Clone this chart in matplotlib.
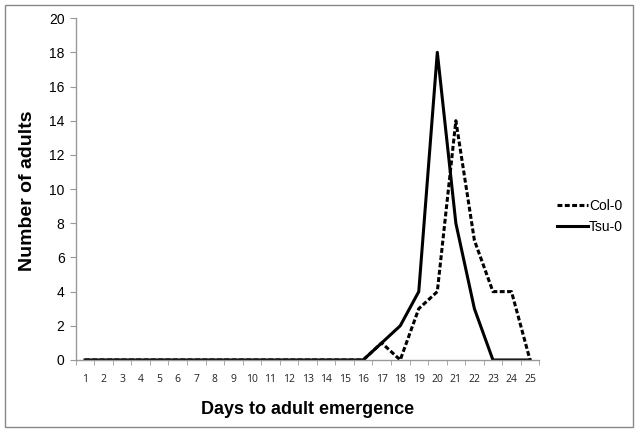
import matplotlib
matplotlib.use("Agg")
import matplotlib.pyplot as plt
from matplotlib.patches import Rectangle

days = list(range(1, 26))
col0 = [0]*16 + [1, 0, 3, 4, 14, 7, 4, 4, 0]
tsu0 = [0]*16 + [1, 2, 4, 18, 8, 3, 0, 0, 0]

fig = plt.figure(figsize=(6.38, 4.32), dpi=100)
ax = fig.add_axes([0.1187, 0.1667, 0.7266, 0.7913])

ax.plot(days, col0, color="black", linestyle=(0, (1.6, 0.8)), linewidth=2.2, label="Col-0")
ax.plot(days, tsu0, color="black", linestyle="-", linewidth=2.2, label="Tsu-0")

ax.set_xlim(0.5, 25.5)
ax.set_ylim(0, 20)
ax.set_yticks(range(0, 21, 2))
ax.set_xticks(days)
ax.set_xticklabels([str(d) for d in days], fontsize=7.5, family="Open Sans", color="#222222")
ax.set_xticks([d + 0.5 for d in range(0, 26)], minor=True)
ax.tick_params(axis="x", which="major", length=0, pad=10)
ax.tick_params(axis="x", which="minor", length=3.5, color="#999999")
ax.tick_params(axis="y", length=4, color="#999999", labelsize=10, pad=4)
for lab in ax.get_yticklabels():
    lab.set_family("Liberation Sans")

for s in ["top", "right"]:
    ax.spines[s].set_visible(False)
for s in ["left", "bottom"]:
    ax.spines[s].set_color("#999999")
    ax.spines[s].set_linewidth(1)

ax.set_xlabel("Days to adult emergence", fontsize=13, fontweight="bold", family="Liberation Sans")
ax.xaxis.set_label_coords(0.5, -0.12)
ax.set_ylabel("Number of adults", fontsize=14, fontweight="bold", family="Liberation Sans")
ax.yaxis.set_label_coords(-0.085, 0.495)

leg = fig.legend(loc="center left", bbox_to_anchor=(0.873, 0.499), frameon=False,
                 prop={"family": "Liberation Sans", "size": 10}, handlelength=2.2,
                 handletextpad=0.1, labelspacing=0.45, borderpad=0, borderaxespad=0)

fig.patches.append(Rectangle((0.008, 0.012), 0.984, 0.976, transform=fig.transFigure,
                             fill=False, edgecolor="#888888", linewidth=1))

fig.savefig("out.png", dpi=100)
